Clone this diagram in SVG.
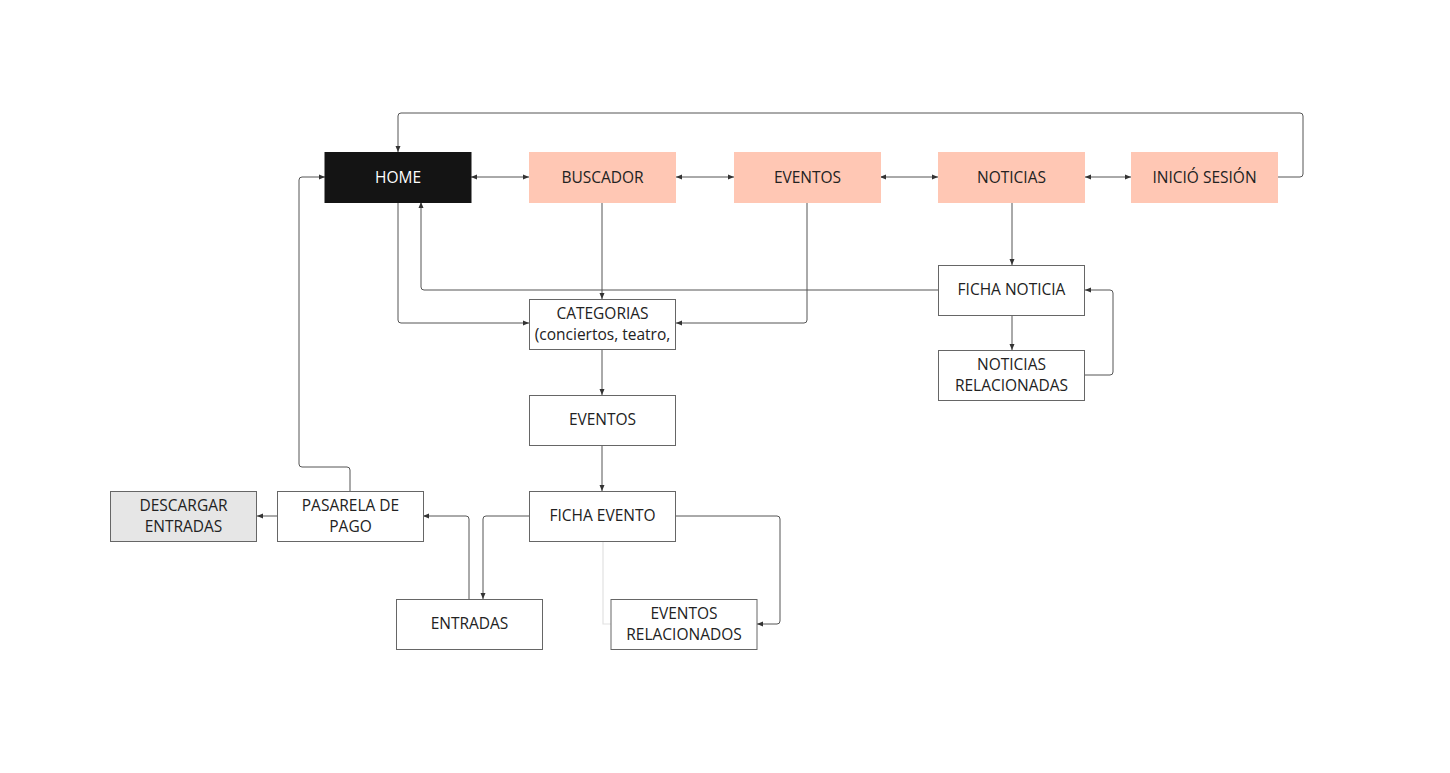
<svg xmlns="http://www.w3.org/2000/svg" width="1450" height="773" viewBox="0 0 1450 773">
<defs>
<style>
.box{fill:#ffffff;stroke:#666666;stroke-width:1}
.top{fill:#ffc7b4;stroke:none}
.gray{fill:#e6e6e6;stroke:#666666;stroke-width:1}
.dark{fill:#141414;stroke:#141414;stroke-width:1}
text{font-family:"Open Sans","Liberation Sans",sans-serif;font-size:15.5px;fill:#222222;text-anchor:middle}
.w{fill:#ffffff}
.c{fill:none;stroke:#555555;stroke-width:1;stroke-linejoin:round}
.lc{fill:none;stroke:#e2e2e2;stroke-width:1.2}
</style>
<marker id="a" viewBox="0 0 6 6" refX="6" refY="3" markerWidth="6" markerHeight="6" markerUnits="userSpaceOnUse" orient="auto-start-reverse">
<path d="M0,0.5 L6,3 L0,5.5 z" fill="#333333"/>
</marker>
</defs>
<rect width="1450" height="773" fill="#ffffff"/>
<g id="connectors">
<path class="c" d="M1278,177 H1300 Q1303,177 1303,174 V116 Q1303,113 1300,113 H401 Q398,113 398,116 V152" marker-end="url(#a)"/>
<path class="c" d="M471,177 H529" marker-start="url(#a)" marker-end="url(#a)"/>
<path class="c" d="M676,177 H734" marker-start="url(#a)" marker-end="url(#a)"/>
<path class="c" d="M880,177 H938" marker-start="url(#a)" marker-end="url(#a)"/>
<path class="c" d="M1085,177 H1131" marker-start="url(#a)" marker-end="url(#a)"/>
<path class="c" d="M350,491 V470 Q350,467 347,467 H302 Q299,467 299,464 V180 Q299,177 302,177 H325" marker-end="url(#a)"/>
<path class="c" d="M398,202 V320 Q398,323 401,323 H529" marker-end="url(#a)"/>
<path class="c" d="M938,290 H424 Q421,290 421,287 V202" marker-end="url(#a)"/>
<path class="c" d="M602,202 V299" marker-end="url(#a)"/>
<path class="c" d="M807,202 V320 Q807,323 804,323 H676" marker-end="url(#a)"/>
<path class="c" d="M602,349 V395" marker-end="url(#a)"/>
<path class="c" d="M602,445 V491" marker-end="url(#a)"/>
<path class="c" d="M529,516 H486 Q483,516 483,519 V599" marker-end="url(#a)"/>
<path class="c" d="M469,599 V519 Q469,516 466,516 H423" marker-end="url(#a)"/>
<path class="c" d="M277,516 H257" marker-end="url(#a)"/>
<path class="c" d="M676,516 H777 Q780,516 780,519 V621 Q780,624 777,624 H757" marker-end="url(#a)"/>
<path class="lc" d="M603,541 V624 H611"/>
<path class="c" d="M1012,202 V265" marker-end="url(#a)"/>
<path class="c" d="M1012,315 V350" marker-end="url(#a)"/>
<path class="c" d="M1085,375 H1110 Q1113,375 1113,372 V293 Q1113,290 1110,290 H1085" marker-end="url(#a)"/>
</g>
<g id="home"><rect class="dark" x="325" y="152.5" width="146" height="50"/><text class="w" x="398" y="182.5">HOME</text></g>
<g id="buscador"><rect class="top" x="529" y="152" width="147" height="51"/><text x="602.5" y="182.5">BUSCADOR</text></g>
<g id="eventos"><rect class="top" x="734" y="152" width="147" height="51"/><text x="807.5" y="182.5">EVENTOS</text></g>
<g id="noticias"><rect class="top" x="938" y="152" width="147" height="51"/><text x="1011.5" y="182.5">NOTICIAS</text></g>
<g id="inicio-sesion"><rect class="top" x="1131" y="152" width="147" height="51"/><text x="1204.5" y="182.5">INICIÓ SESIÓN</text></g>
<g id="categorias"><rect class="box" x="529.5" y="299.5" width="146" height="50"/><text x="602.5" y="318.5">CATEGORIAS</text><text x="602.5" y="339.5">(conciertos, teatro,</text></g>
<g id="eventos-lista"><rect class="box" x="529.5" y="395.5" width="146" height="50"/><text x="602.5" y="425">EVENTOS</text></g>
<g id="ficha-evento"><rect class="box" x="529.5" y="491.5" width="146" height="50"/><text x="602.5" y="521">FICHA EVENTO</text></g>
<g id="entradas"><rect class="box" x="396.5" y="599.5" width="146" height="50"/><text x="469.5" y="629">ENTRADAS</text></g>
<g id="eventos-relacionados"><rect class="box" x="611" y="599.5" width="146" height="50"/><text x="684" y="618.5">EVENTOS</text><text x="684" y="639.5">RELACIONADOS</text></g>
<g id="pasarela"><rect class="box" x="277.5" y="491.5" width="146" height="50"/><text x="350.5" y="510.5">PASARELA DE</text><text x="350.5" y="531.5">PAGO</text></g>
<g id="descargar"><rect class="gray" x="110.5" y="491.5" width="146" height="50"/><text x="183.5" y="510.5">DESCARGAR</text><text x="183.5" y="531.5">ENTRADAS</text></g>
<g id="ficha-noticia"><rect class="box" x="938.5" y="265.5" width="146" height="50"/><text x="1011.5" y="295">FICHA NOTICIA</text></g>
<g id="noticias-relacionadas"><rect class="box" x="938.5" y="350.5" width="146" height="50"/><text x="1011.5" y="369.5">NOTICIAS</text><text x="1011.5" y="390.5">RELACIONADAS</text></g>
</svg>
